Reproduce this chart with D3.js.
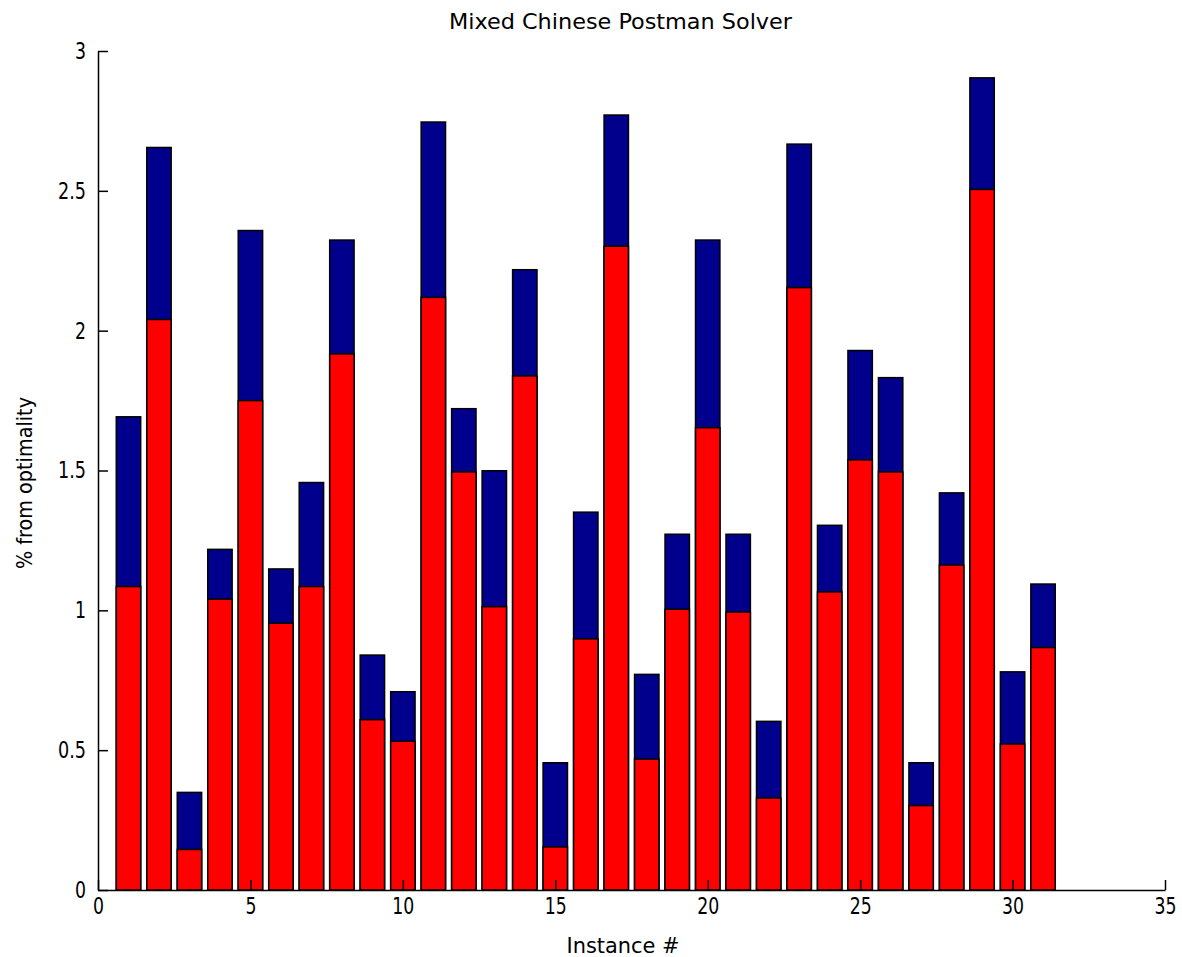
<!DOCTYPE html>
<html>
<head>
<meta charset="utf-8">
<script src="https://cdn.jsdelivr.net/npm/d3@7"></script>
<style>
  body { margin: 0; background: #fff; }
  text { font-family: "Liberation Sans Narrow", "Arial Narrow", "DejaVu Sans Condensed", sans-serif; fill: #000; }
</style>
</head>
<body>
<svg id="chart"></svg>
<script>
// values, one per instance
const instances = [1, 2, 3, 4, 5, 6, 7, 8, 9, 10, 11, 12, 13, 14, 15, 16,
                   17, 18, 19, 20, 21, 22, 23, 24, 25, 26, 27, 28, 29, 30, 31];
const upperSeries = [1.692, 2.655, 0.349, 1.218, 2.358, 1.148, 1.457, 2.324, 0.840, 0.709,
                     2.746, 1.721, 1.499, 2.218, 0.455, 1.351, 2.771, 0.771, 1.272, 2.324,
                     1.272, 0.603, 2.667, 1.304, 1.929, 1.832, 0.455, 1.420, 2.904, 0.780, 1.094];
const lowerSeries = [1.085, 2.040, 0.145, 1.040, 1.750, 0.954, 1.085, 1.917, 0.609, 0.532,
                     2.119, 1.495, 1.013, 1.838, 0.154, 0.898, 2.302, 0.468, 1.004, 1.653,
                     0.994, 0.329, 2.154, 1.066, 1.538, 1.495, 0.302, 1.162, 2.505, 0.522, 0.867];
const xTicks = [0, 5, 10, 15, 20, 25, 30, 35];
const yTicks = [0, 0.5, 1, 1.5, 2, 2.5, 3];

const W = 1182, H = 957;
const LEFT = 98, RIGHT = 1165, TOP = 51, BOTTOM = 890;
const BAR = 0.8;

const svg = d3.select('#chart')
  .attr('width', W)
  .attr('height', H);

const x = d3.scaleLinear().domain([0, 35]).range([LEFT, RIGHT]);
const y = d3.scaleLinear().domain([0, 3]).range([BOTTOM, TOP]);
const bw = x(BAR) - x(0);

// blue bars first, red ones drawn over them
const bars = svg.append('g');
[[upperSeries, '#00008c'], [lowerSeries, '#ff0000']].forEach(([vals, color]) => {
  bars.append('g').selectAll('rect').data(vals)
    .enter()
    .append('rect')
      .attr('x', (d, i) => x(instances[i]) - bw / 2)
      .attr('y', d => y(d))
      .attr('width', bw)
      .attr('height', d => y(0) - y(d))
      .attr('fill', color)
      .attr('stroke', '#000')
      .attr('stroke-width', 1.5);
});

// axes, MATLAB style: ticks pointing inward, no box
const xAxis = svg.append('g')
  .attr('transform', `translate(0,${BOTTOM})`)
  .call(d3.axisBottom(x).tickValues(xTicks).tickFormat(d => d)
    .tickSize(-10).tickSizeOuter(0).tickPadding(8));

const yAxis = svg.append('g')
  .attr('transform', `translate(${LEFT},0)`)
  .call(d3.axisLeft(y).tickValues(yTicks).tickFormat(d => d)
    .tickSize(-10).tickSizeOuter(0).tickPadding(12));

// the original digits are tall and narrow (~11px wide each)
const labelWidth = s => s.replace(/[^.]/g, '').length * 6 + s.replace(/\./g, '').length * 11;

[xAxis, yAxis].forEach(a => {
  a.selectAll('path, line').attr('stroke', '#000').attr('stroke-width', 1.5);
  a.selectAll('text')
    .style('font-size', '23px')
    .attr('fill', '#000')
    .attr('textLength', d => labelWidth(String(d)))
    .attr('lengthAdjust', 'spacingAndGlyphs');
  a.attr('font-family', null);
});

svg.append('text')
  .attr('x', (LEFT + RIGHT) / 2 - 11)
  .attr('y', 29)
  .attr('text-anchor', 'middle')
  .attr('textLength', 343)
  .attr('lengthAdjust', 'spacingAndGlyphs')
  .style('font-size', '22px')
  .text('Mixed Chinese Postman Solver');

svg.append('text')
  .attr('x', 623)
  .attr('y', 953)
  .attr('text-anchor', 'middle')
  .attr('textLength', 113)
  .attr('lengthAdjust', 'spacingAndGlyphs')
  .style('font-size', '22px')
  .text('Instance #');

svg.append('text')
  .attr('transform', 'translate(32,483) rotate(-90)')
  .attr('text-anchor', 'middle')
  .attr('textLength', 172)
  .attr('lengthAdjust', 'spacingAndGlyphs')
  .style('font-size', '22px')
  .text('% from optimality');
</script>
</body>
</html>
